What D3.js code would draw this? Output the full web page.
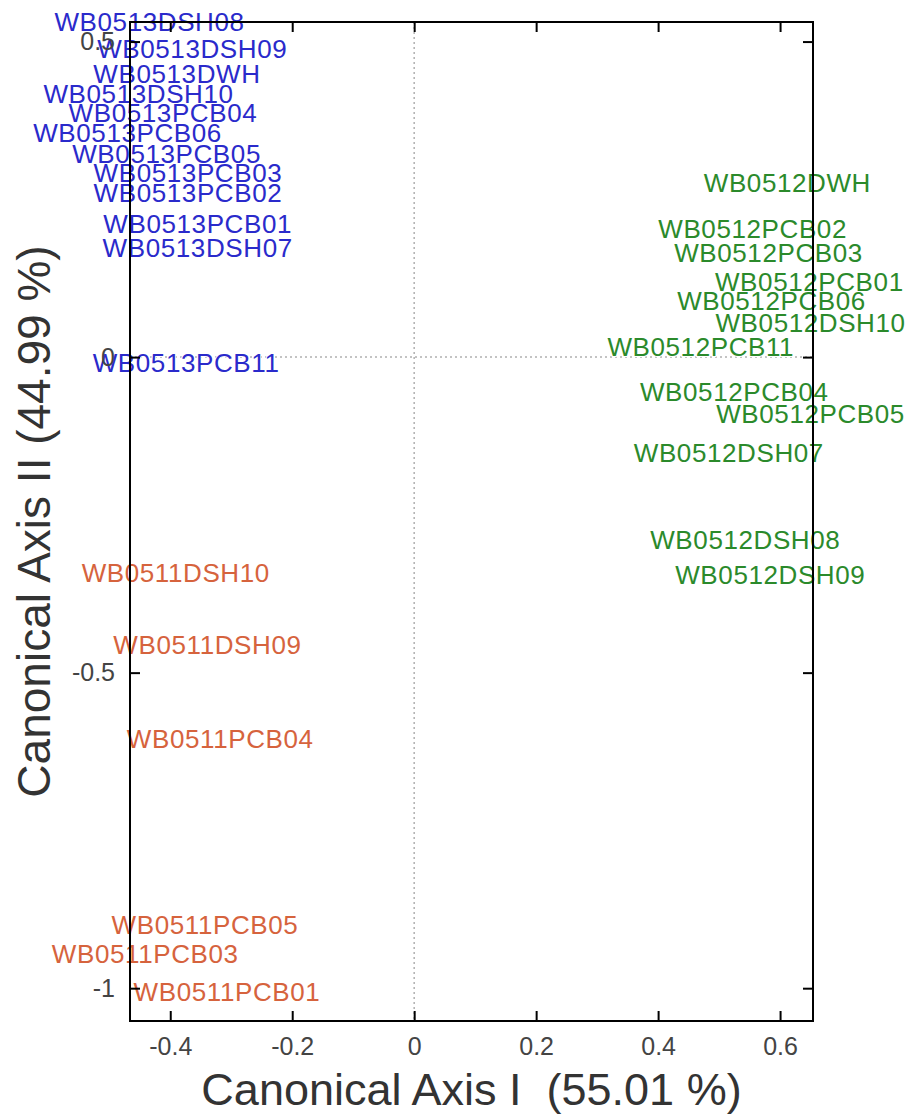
<!DOCTYPE html>
<html>
<head>
<meta charset="utf-8">
<script src="https://cdn.jsdelivr.net/npm/d3@7"></script>
<style>
  body { margin: 0; background: #fff; }
  svg { font-family: "Liberation Sans", Arial, sans-serif; }
</style>
</head>
<body>
<svg id="chart" width="911" height="1114"></svg>
<script>
////////////////// data ////////////////////
// group WB0513 (blue)
const names13 = ["WB0513DSH08", "WB0513DSH09", "WB0513DWH", "WB0513DSH10", "WB0513PCB04", "WB0513PCB06",
    "WB0513PCB05", "WB0513PCB03", "WB0513PCB02", "WB0513PCB01", "WB0513DSH07", "WB0513PCB11"];
const x13 = [-0.434, -0.364, -0.389, -0.452, -0.412, -0.470, -0.406, -0.371, -0.371, -0.355, -0.355, -0.374];
const y13 = [0.532, 0.488, 0.449, 0.417, 0.387, 0.355, 0.323, 0.292, 0.260, 0.212, 0.174, -0.008];
// group WB0512 (green)
const names12 = ["WB0512DWH", "WB0512PCB02", "WB0512PCB03", "WB0512PCB01", "WB0512PCB06", "WB0512DSH10",
    "WB0512PCB11", "WB0512PCB04", "WB0512PCB05", "WB0512DSH07", "WB0512DSH08", "WB0512DSH09"];
const x12 = [0.612, 0.555, 0.581, 0.648, 0.586, 0.650, 0.470, 0.525, 0.650, 0.516, 0.543, 0.584];
const y12 = [0.277, 0.204, 0.166, 0.119, 0.089, 0.054, 0.016, -0.054, -0.089, -0.151, -0.290, -0.345];
// group WB0511 (orange)
const names11 = ["WB0511DSH10", "WB0511DSH09", "WB0511PCB04", "WB0511PCB05", "WB0511PCB03", "WB0511PCB01"];
const x11 = [-0.391, -0.339, -0.318, -0.343, -0.441, -0.307];
const y11 = [-0.341, -0.456, -0.604, -0.899, -0.945, -1.005];
// ticks and titles
const xTicks = [-0.4, -0.2, 0, 0.2, 0.4, 0.6];
const yTicks = [0.5, 0, -0.5, -1];
const xTitle = "Canonical Axis I  (55.01 %)";
const yTitle = "Canonical Axis II (44.99 %)";

////////////////// layout ////////////////////
const plotLeft = 130, plotRight = 813, plotTop = 22, plotBottom = 1021;
const svg = d3.select("#chart");
const xScale = d3.scaleLinear().domain([-0.466, 0.654]).range([plotLeft, plotRight]);
const yScale = d3.scaleLinear().domain([0.531, -1.052]).range([plotTop, plotBottom]);

// dotted reference lines through the origin
const refGroup = svg.append("g")
    .attr("stroke", "#b0b0b0")
    .attr("stroke-width", 1.5)
    .attr("stroke-dasharray", "2,3");
refGroup.append("line")
    .attr("x1", xScale(0)).attr("x2", xScale(0))
    .attr("y1", plotTop).attr("y2", plotBottom);
refGroup.append("line")
    .attr("x1", plotLeft).attr("x2", plotRight)
    .attr("y1", yScale(0)).attr("y2", yScale(0));

// sample labels
const groups = [
    { names: names13, xs: x13, ys: y13, color: "#2a2acb" },
    { names: names12, xs: x12, ys: y12, color: "#2b8a2b" },
    { names: names11, xs: x11, ys: y11, color: "#d6633d" }
];
const labelGroup = svg.append("g")
    .attr("font-size", 26)
    .attr("letter-spacing", 0.6)
    .attr("text-anchor", "middle");
groups.forEach(g => {
    labelGroup.append("g")
        .attr("fill", g.color)
        .selectAll("text")
        .data(g.names)
        .enter()
        .append("text")
        .attr("x", (d, i) => xScale(g.xs[i]))
        .attr("y", (d, i) => yScale(g.ys[i]))
        .attr("dy", "0.36em")
        .attr("stroke", "#fff")
        .attr("stroke-width", 2)
        .attr("paint-order", "stroke")
        .text(d => d);
});

////////////////// axes ////////////////////
const fmt = d => String(d);
function styleAxis(sel) {
    sel.select(".domain").remove();
    sel.selectAll(".tick line").attr("stroke", "#000").attr("stroke-width", 2);
    sel.selectAll(".tick text").attr("fill", "#444").attr("font-size", 25)
        .attr("font-family", "Liberation Sans, Arial, sans-serif");
}
svg.append("g")
    .attr("transform", `translate(0,${plotBottom})`)
    .call(d3.axisBottom(xScale).tickValues(xTicks).tickFormat(fmt)
        .tickSizeInner(-10).tickSizeOuter(0).tickPadding(16))
    .call(styleAxis);
svg.append("g")
    .attr("transform", `translate(0,${plotTop})`)
    .call(d3.axisTop(xScale).tickValues(xTicks).tickFormat("")
        .tickSizeInner(-10).tickSizeOuter(0))
    .call(styleAxis);
svg.append("g")
    .attr("transform", `translate(${plotLeft},0)`)
    .call(d3.axisLeft(yScale).tickValues(yTicks).tickFormat(fmt)
        .tickSizeInner(-10).tickSizeOuter(0).tickPadding(15))
    .call(styleAxis);
svg.append("g")
    .attr("transform", `translate(${plotRight},0)`)
    .call(d3.axisRight(yScale).tickValues(yTicks).tickFormat("")
        .tickSizeInner(-10).tickSizeOuter(0))
    .call(styleAxis);

// frame
svg.append("rect")
    .attr("x", plotLeft).attr("y", plotTop)
    .attr("width", plotRight - plotLeft).attr("height", plotBottom - plotTop)
    .attr("fill", "none")
    .attr("stroke", "#000")
    .attr("stroke-width", 2);

// titles
svg.append("text")
    .attr("x", (plotLeft + plotRight) / 2)
    .attr("y", 1105)
    .attr("text-anchor", "middle")
    .attr("font-size", 45)
    .attr("fill", "#333")
    .style("white-space", "pre")
    .text(xTitle);
svg.append("text")
    .attr("transform", `translate(50,${(plotTop + plotBottom) / 2}) rotate(-90)`)
    .attr("text-anchor", "middle")
    .attr("font-size", 46)
    .attr("fill", "#333")
    .text(yTitle);
</script>
</body>
</html>
